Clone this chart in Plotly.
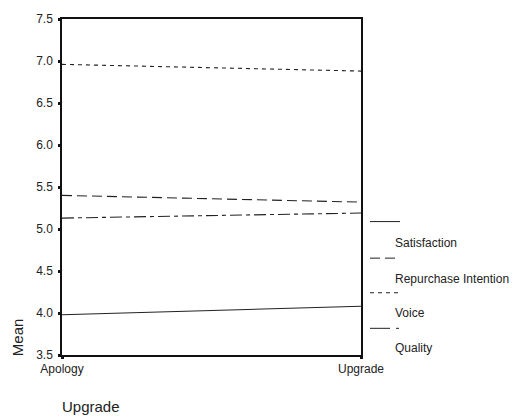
import plotly.graph_objects as go

categories = ["Apology", "Upgrade"]
satisfaction = [3.98, 4.08]
repurchase = [5.40, 5.32]
voice = [6.96, 6.88]
quality = [5.13, 5.19]
yticks = [3.5, 4.0, 4.5, 5.0, 5.5, 6.0, 6.5, 7.0, 7.5]

series = [
    ("Satisfaction", satisfaction, "solid"),
    ("Repurchase Intention", repurchase, "10px,5px"),
    ("Voice", voice, "4px,4px"),
    ("Quality", quality, "12px,4px,4px,4px"),
]

W, H = 514, 417
L, R, T, B = 62, 361, 15, 355
pw, ph = R - L, B - T

def px(x):
    return (x - L) / pw

def py(y):
    return (B - y) / ph

fig = go.Figure()
for name, vals, dash in series:
    fig.add_trace(go.Scatter(x=[0, 1], y=vals, mode="lines", name=name,
                             line=dict(color="#222", width=1.1, dash=dash),
                             showlegend=False))

font = dict(family="Liberation Sans, Arial, sans-serif", color="#222")

shapes = []
annotations = []
leg_line_y = [220, 257, 292, 328]
leg_text_y = [242, 278, 313, 348]
for (name, vals, dash), ly, ty in zip(series, leg_line_y, leg_text_y):
    shapes.append(dict(type="line", xref="paper", yref="paper",
                       x0=px(370), x1=px(400), y0=py(ly), y1=py(ly),
                       line=dict(color="#222", width=1,
                                 dash="20px,6px,3px" if name == "Quality" else dash)))
    annotations.append(dict(text=name, xref="paper", yref="paper",
                            x=px(393), y=py(ty), xanchor="left", yanchor="middle",
                            showarrow=False, font=dict(size=12, **font)))

annotations.append(dict(text="Mean", xref="paper", yref="paper",
                        x=px(17), y=py(337), textangle=-90, xanchor="center",
                        yanchor="middle", showarrow=False, font=dict(size=15, **font)))
annotations.append(dict(text="Upgrade", xref="paper", yref="paper",
                        x=px(60), y=py(407), xanchor="left", yanchor="middle",
                        showarrow=False, font=dict(size=15, **font)))

fig.update_layout(
    width=W, height=H,
    margin=dict(l=L, r=W - R, t=T, b=H - B),
    paper_bgcolor="white", plot_bgcolor="white",
    shapes=shapes, annotations=annotations,
    xaxis=dict(range=[0, 1], tickvals=[0, 1], ticktext=categories,
               showgrid=False, zeroline=False, showline=True, linecolor="#111",
               linewidth=1.5, mirror=True, ticks="outside", ticklen=2, tickwidth=3,
               tickcolor="#111", tickfont=dict(size=12, **font)),
    yaxis=dict(range=[3.5, 7.5], tickvals=yticks,
               ticktext=[f"{v:.1f}" for v in yticks],
               showgrid=False, zeroline=False, showline=True, linecolor="#111",
               linewidth=1.5, mirror=True, ticks="outside", ticklen=2, tickwidth=3,
               tickcolor="#111", tickfont=dict(size=12, **font),
               ticklabelstandoff=3),
)

fig.write_html("out.html")
